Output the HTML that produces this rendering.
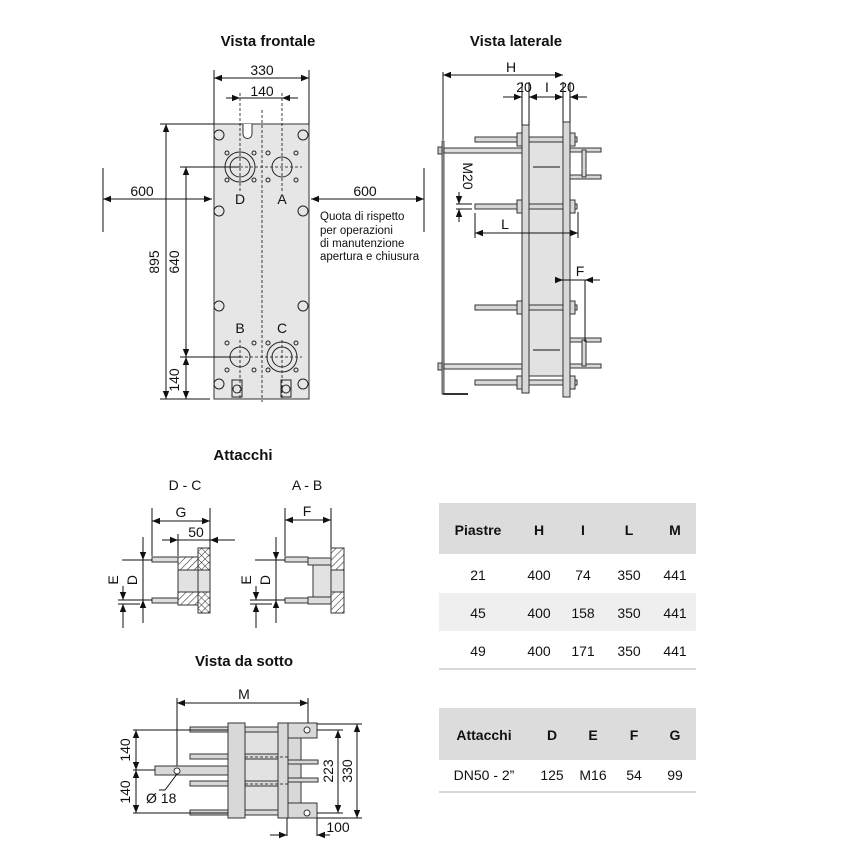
<!DOCTYPE html>
<html><head><meta charset="utf-8"><style>
body{margin:0;background:#fff}
svg{display:block}
text{font-family:"Liberation Sans",Arial,sans-serif;fill:#111}
.t{font-size:15px;font-weight:bold}
.d{font-size:14px}
.l{stroke:#111;stroke-width:1;fill:none}
.g{fill:#e6e6e6;stroke:#333;stroke-width:1}
.dash{stroke:#111;stroke-width:0.8;stroke-dasharray:3,2;fill:none}
</style></head><body>
<svg width="850" height="850" viewBox="0 0 850 850" xmlns="http://www.w3.org/2000/svg">
<defs>
<marker id="a" viewBox="0 0 10 10" refX="10" refY="5" markerWidth="8" markerHeight="8" orient="auto-start-reverse"><path d="M0,1 L10,5 L0,9z" fill="#111"/></marker>
<pattern id="h" width="5" height="5" patternUnits="userSpaceOnUse" patternTransform="rotate(45)"><rect width="5" height="5" fill="#fff"/><line x1="0" y1="0" x2="0" y2="5" stroke="#333" stroke-width="1.2"/></pattern>
<pattern id="x" width="5" height="5" patternUnits="userSpaceOnUse" patternTransform="rotate(45)"><rect width="5" height="5" fill="#fff"/><line x1="0" y1="0" x2="0" y2="5" stroke="#333"/><line x1="0" y1="0" x2="5" y2="0" stroke="#333"/></pattern>
</defs>

<!-- Titles -->
<text class="t" x="268" y="46" text-anchor="middle">Vista frontale</text>
<text class="t" x="516" y="46" text-anchor="middle">Vista laterale</text>
<text class="t" x="243" y="460" text-anchor="middle">Attacchi</text>
<text class="t" x="244" y="666" text-anchor="middle">Vista da sotto</text>

<!-- FRONT VIEW -->
<rect class="g" x="214" y="124" width="95" height="275"/>
<path d="M243,124 v10 a4,4 0 0 0 9,0 v-10" fill="#fff" stroke="#333"/>
<line class="dash" x1="262" y1="110" x2="262" y2="402"/>
<line class="dash" x1="240" y1="93" x2="240" y2="192"/>
<line class="dash" x1="282" y1="93" x2="282" y2="192"/>
<line class="dash" x1="240" y1="340" x2="240" y2="399"/>
<line class="dash" x1="282" y1="340" x2="282" y2="399"/>
<line class="dash" x1="225" y1="167" x2="302" y2="167"/>
<line class="dash" x1="225" y1="357" x2="302" y2="357"/>
<g fill="none" stroke="#222">
<circle cx="240" cy="167" r="15"/><circle cx="240" cy="167" r="10"/>
<circle cx="282" cy="167" r="10"/>
<circle cx="240" cy="357" r="10"/>
<circle cx="282" cy="357" r="15"/><circle cx="282" cy="357" r="10"/>
<circle cx="219" cy="135" r="5"/><circle cx="303" cy="135" r="5"/>
<circle cx="219" cy="211" r="5"/><circle cx="303" cy="211" r="5"/>
<circle cx="219" cy="306" r="5"/><circle cx="303" cy="306" r="5"/>
<circle cx="219" cy="384" r="5"/><circle cx="303" cy="384" r="5"/>
<circle cx="227" cy="153" r="2"/><circle cx="254" cy="153" r="2"/><circle cx="227" cy="180" r="2"/><circle cx="254" cy="180" r="2"/>
<circle cx="268" cy="153" r="2"/><circle cx="296" cy="153" r="2"/><circle cx="268" cy="180" r="2"/><circle cx="296" cy="180" r="2"/>
<circle cx="227" cy="343" r="2"/><circle cx="254" cy="343" r="2"/><circle cx="227" cy="370" r="2"/><circle cx="254" cy="370" r="2"/>
<circle cx="268" cy="343" r="2"/><circle cx="296" cy="343" r="2"/><circle cx="268" cy="370" r="2"/><circle cx="296" cy="370" r="2"/>
<rect x="232" y="380" width="10" height="17"/><circle cx="237" cy="389" r="4"/>
<rect x="281" y="380" width="10" height="17"/><circle cx="286" cy="389" r="4"/>
</g>
<text class="d" x="240" y="204" text-anchor="middle" font-size="15">D</text>
<text class="d" x="282" y="204" text-anchor="middle" font-size="15">A</text>
<text class="d" x="240" y="333" text-anchor="middle" font-size="15">B</text>
<text class="d" x="282" y="333" text-anchor="middle" font-size="15">C</text>
<!-- dims front -->
<line class="l" x1="214" y1="70" x2="214" y2="124"/><line class="l" x1="309" y1="70" x2="309" y2="124"/>
<line class="l" x1="214" y1="78" x2="309" y2="78" marker-start="url(#a)" marker-end="url(#a)"/>
<text class="d" x="262" y="75" text-anchor="middle">330</text>
<line class="l" x1="226" y1="98" x2="240" y2="98" marker-end="url(#a)"/><line class="l" x1="298" y1="98" x2="282" y2="98" marker-end="url(#a)"/>
<line class="l" x1="240" y1="98" x2="282" y2="98"/>
<text class="d" x="262" y="96" text-anchor="middle">140</text>
<line class="l" x1="160" y1="124" x2="214" y2="124"/><line class="l" x1="160" y1="399" x2="210" y2="399"/>
<line class="l" x1="166" y1="124" x2="166" y2="399" marker-start="url(#a)" marker-end="url(#a)"/>
<text class="d" transform="translate(159,262) rotate(-90)" text-anchor="middle">895</text>
<line class="l" x1="180" y1="167" x2="240" y2="167"/><line class="l" x1="180" y1="357" x2="240" y2="357"/>
<line class="l" x1="186" y1="167" x2="186" y2="357" marker-start="url(#a)" marker-end="url(#a)"/>
<text class="d" transform="translate(179,262) rotate(-90)" text-anchor="middle">640</text>
<line class="l" x1="186" y1="357" x2="186" y2="399" marker-start="url(#a)" marker-end="url(#a)"/>
<text class="d" transform="translate(179,380) rotate(-90)" text-anchor="middle">140</text>
<line class="l" x1="103" y1="168" x2="103" y2="232"/>
<line class="l" x1="103" y1="199" x2="212" y2="199" marker-start="url(#a)" marker-end="url(#a)"/>
<text class="d" x="142" y="196" text-anchor="middle">600</text>
<line class="l" x1="424" y1="168" x2="424" y2="232"/>
<line class="l" x1="311" y1="199" x2="424" y2="199" marker-start="url(#a)" marker-end="url(#a)"/>
<text class="d" x="365" y="196" text-anchor="middle">600</text>
<g font-size="11.5"><text x="320" y="220">Quota di rispetto</text><text x="320" y="234">per operazioni</text><text x="320" y="247">di manutenzione</text><text x="320" y="260">apertura e chiusura</text></g>

<!-- SIDE VIEW -->
<line class="l" x1="443" y1="72" x2="443" y2="140"/>
<line class="l" x1="443" y1="75" x2="563" y2="75" marker-start="url(#a)" marker-end="url(#a)"/>
<text class="d" x="511" y="72" text-anchor="middle">H</text>
<rect x="442" y="141" width="2" height="253" fill="#aaa" stroke="#333" stroke-width="0.8"/>
<path d="M443,394 h25" stroke="#333" stroke-width="2"/>
<rect x="438" y="147" width="4" height="7" fill="#ccc" stroke="#333"/>
<rect x="438" y="363" width="4" height="7" fill="#ccc" stroke="#333"/>
<rect x="444" y="148" width="78" height="5" fill="#ddd" stroke="#333"/>
<rect x="444" y="364" width="78" height="5" fill="#ddd" stroke="#333"/>
<rect x="529" y="140" width="34" height="236" fill="#e2e2e2" stroke="#333"/>
<line class="l" x1="533" y1="167" x2="560" y2="167"/><line class="l" x1="533" y1="350" x2="560" y2="350"/>
<g fill="#d8d8d8" stroke="#333">
<rect x="475" y="137" width="102" height="5"/><rect x="475" y="204" width="102" height="5"/>
<rect x="475" y="305" width="102" height="5"/><rect x="475" y="380" width="102" height="5"/>
<rect x="570" y="148" width="31" height="4"/><rect x="570" y="175" width="31" height="4"/><rect x="582" y="150" width="4" height="27"/>
<rect x="570" y="338" width="31" height="4"/><rect x="570" y="364" width="31" height="4"/><rect x="582" y="340" width="4" height="26"/>
<rect x="522" y="125" width="7" height="268"/><rect x="563" y="122" width="7" height="275"/>
<rect x="517" y="133" width="5" height="13"/><rect x="570" y="133" width="5" height="13"/>
<rect x="517" y="200" width="5" height="13"/><rect x="570" y="200" width="5" height="13"/>
<rect x="517" y="301" width="5" height="13"/><rect x="570" y="301" width="5" height="13"/>
<rect x="517" y="376" width="5" height="13"/><rect x="570" y="376" width="5" height="13"/>
</g>
<line class="l" x1="522" y1="82" x2="522" y2="125"/><line class="l" x1="529" y1="82" x2="529" y2="125"/>
<line class="l" x1="563" y1="82" x2="563" y2="122"/><line class="l" x1="570" y1="82" x2="570" y2="122"/>
<line class="l" x1="503" y1="97" x2="522" y2="97" marker-end="url(#a)"/>
<line class="l" x1="529" y1="97" x2="563" y2="97" marker-start="url(#a)" marker-end="url(#a)"/>
<line class="l" x1="587" y1="97" x2="570" y2="97" marker-end="url(#a)"/>
<text class="d" x="524" y="92" text-anchor="middle">20</text>
<text class="d" x="547" y="92" text-anchor="middle">I</text>
<text class="d" x="567" y="92" text-anchor="middle">20</text>
<text class="d" font-size="12" transform="translate(463,176) rotate(90)" text-anchor="middle">M20</text>
<line class="l" x1="456" y1="204" x2="472" y2="204"/><line class="l" x1="456" y1="209" x2="472" y2="209"/>
<line class="l" x1="459" y1="192" x2="459" y2="204" marker-end="url(#a)"/>
<line class="l" x1="459" y1="222" x2="459" y2="209" marker-end="url(#a)"/>
<line class="l" x1="475" y1="213" x2="475" y2="238"/><line class="l" x1="578" y1="212" x2="578" y2="238"/>
<line class="l" x1="475" y1="233" x2="578" y2="233" marker-start="url(#a)" marker-end="url(#a)"/>
<text class="d" x="505" y="229" text-anchor="middle">L</text>
<line class="l" x1="585" y1="280" x2="585" y2="342"/>
<line class="l" x1="556" y1="280" x2="563" y2="280" marker-end="url(#a)"/>
<line class="l" x1="600" y1="280" x2="585" y2="280" marker-end="url(#a)"/>
<line class="l" x1="563" y1="280" x2="585" y2="280"/>
<text class="d" x="580" y="276" text-anchor="middle">F</text>

<!-- ATTACCHI -->
<text class="d" x="185" y="490" text-anchor="middle" font-size="15">D - C</text>
<text class="d" x="307" y="490" text-anchor="middle" font-size="15">A - B</text>
<line class="l" x1="152" y1="508" x2="152" y2="556"/><line class="l" x1="210" y1="508" x2="210" y2="548"/>
<line class="l" x1="152" y1="521" x2="210" y2="521" marker-start="url(#a)" marker-end="url(#a)"/>
<text class="d" x="181" y="517" text-anchor="middle">G</text>
<line class="l" x1="178" y1="534" x2="178" y2="556"/>
<line class="l" x1="162" y1="540" x2="178" y2="540" marker-end="url(#a)"/>
<line class="l" x1="235" y1="540" x2="210" y2="540" marker-end="url(#a)"/>
<line class="l" x1="178" y1="540" x2="210" y2="540"/>
<text class="d" x="196" y="537" text-anchor="middle">50</text>
<rect x="152" y="557" width="26" height="5" fill="#ddd" stroke="#333"/>
<rect x="152" y="598" width="26" height="5" fill="#ddd" stroke="#333"/>
<rect x="178" y="557" width="20" height="13" fill="url(#h)" stroke="#333"/>
<rect x="178" y="592" width="20" height="13" fill="url(#h)" stroke="#333"/>
<rect x="178" y="570" width="20" height="22" fill="#e2e2e2" stroke="#333"/>
<rect x="198" y="548" width="12" height="22" fill="url(#x)" stroke="#333"/>
<rect x="198" y="592" width="12" height="21" fill="url(#x)" stroke="#333"/>
<rect x="198" y="570" width="12" height="22" fill="#e2e2e2" stroke="#333"/>
<line class="l" x1="122" y1="560" x2="152" y2="560"/><line class="l" x1="118" y1="600" x2="152" y2="600"/>
<line class="l" x1="143" y1="537" x2="143" y2="560" marker-end="url(#a)"/>
<line class="l" x1="143" y1="623" x2="143" y2="600" marker-end="url(#a)"/>
<line class="l" x1="143" y1="560" x2="143" y2="600"/>
<text class="d" transform="translate(137,580) rotate(-90)" text-anchor="middle">D</text>
<line class="l" x1="118" y1="604" x2="140" y2="604"/>
<line class="l" x1="123" y1="586" x2="123" y2="600" marker-end="url(#a)"/>
<line class="l" x1="123" y1="628" x2="123" y2="604" marker-end="url(#a)"/>
<text class="d" transform="translate(118,580) rotate(-90)" text-anchor="middle">E</text>

<line class="l" x1="285" y1="508" x2="285" y2="556"/><line class="l" x1="331" y1="508" x2="331" y2="548"/>
<line class="l" x1="285" y1="520" x2="331" y2="520" marker-start="url(#a)" marker-end="url(#a)"/>
<text class="d" x="307" y="516" text-anchor="middle">F</text>
<rect x="285" y="557" width="23" height="5" fill="#ddd" stroke="#333"/>
<rect x="285" y="598" width="23" height="5" fill="#ddd" stroke="#333"/>
<rect x="308" y="558" width="23" height="7" fill="#ddd" stroke="#333"/>
<rect x="308" y="597" width="23" height="7" fill="#ddd" stroke="#333"/>
<rect x="313" y="565" width="18" height="32" fill="#e2e2e2" stroke="#333"/>
<rect x="331" y="548" width="13" height="22" fill="url(#h)" stroke="#333"/>
<rect x="331" y="592" width="13" height="21" fill="url(#h)" stroke="#333"/>
<rect x="331" y="570" width="13" height="22" fill="#e2e2e2" stroke="#333"/>
<line class="l" x1="255" y1="560" x2="285" y2="560"/><line class="l" x1="250" y1="600" x2="285" y2="600"/>
<line class="l" x1="276" y1="537" x2="276" y2="560" marker-end="url(#a)"/>
<line class="l" x1="276" y1="623" x2="276" y2="600" marker-end="url(#a)"/>
<line class="l" x1="276" y1="560" x2="276" y2="600"/>
<text class="d" transform="translate(270,580) rotate(-90)" text-anchor="middle">D</text>
<line class="l" x1="250" y1="604" x2="272" y2="604"/>
<line class="l" x1="256" y1="586" x2="256" y2="600" marker-end="url(#a)"/>
<line class="l" x1="256" y1="628" x2="256" y2="604" marker-end="url(#a)"/>
<text class="d" transform="translate(251,580) rotate(-90)" text-anchor="middle">E</text>

<!-- BOTTOM VIEW -->
<line class="l" x1="177" y1="698" x2="177" y2="768"/><line class="l" x1="308" y1="698" x2="308" y2="730"/>
<line class="l" x1="177" y1="703" x2="308" y2="703" marker-start="url(#a)" marker-end="url(#a)"/>
<text class="d" x="244" y="699" text-anchor="middle">M</text>
<rect x="245" y="730" width="33" height="82" fill="#e2e2e2" stroke="#333"/>
<g fill="#d8d8d8" stroke="#333">
<rect x="190" y="727" width="90" height="5"/><rect x="190" y="754" width="90" height="5"/>
<rect x="190" y="781" width="90" height="5"/><rect x="190" y="810" width="90" height="5"/>
<rect x="155" y="766" width="90" height="9"/>
<rect x="228" y="723" width="17" height="95"/>
<rect x="278" y="723" width="10" height="95"/>
<rect x="288" y="723" width="29" height="15"/><rect x="288" y="803" width="29" height="15"/>
<rect x="288" y="738" width="13" height="65"/>
<rect x="288" y="760" width="30" height="4"/><rect x="288" y="778" width="30" height="4"/>
</g>
<line class="dash" x1="245" y1="757" x2="288" y2="757"/><line class="dash" x1="245" y1="784" x2="288" y2="784"/>
<circle cx="307" cy="730" r="3" fill="#fff" stroke="#333"/><circle cx="307" cy="813" r="3" fill="#fff" stroke="#333"/>
<circle cx="177" cy="771" r="3" fill="#fff" stroke="#333"/>
<line class="l" x1="133" y1="730" x2="228" y2="730"/><line class="l" x1="133" y1="813" x2="228" y2="813"/>
<line class="l" x1="133" y1="770" x2="155" y2="770"/>
<line class="l" x1="136" y1="730" x2="136" y2="770" marker-start="url(#a)" marker-end="url(#a)"/>
<line class="l" x1="136" y1="770" x2="136" y2="813" marker-start="url(#a)" marker-end="url(#a)"/>
<text class="d" transform="translate(130,750) rotate(-90)" text-anchor="middle">140</text>
<text class="d" transform="translate(130,792) rotate(-90)" text-anchor="middle">140</text>
<path d="M177,774 L165,790 h-6" class="l"/>
<text class="d" x="146" y="803">Ø 18</text>
<line class="l" x1="317" y1="730" x2="343" y2="730"/><line class="l" x1="317" y1="813" x2="343" y2="813"/>
<line class="l" x1="317" y1="724" x2="362" y2="724"/><line class="l" x1="317" y1="818" x2="362" y2="818"/>
<line class="l" x1="338" y1="730" x2="338" y2="813" marker-start="url(#a)" marker-end="url(#a)"/>
<line class="l" x1="357" y1="724" x2="357" y2="818" marker-start="url(#a)" marker-end="url(#a)"/>
<text class="d" transform="translate(333,771) rotate(-90)" text-anchor="middle">223</text>
<text class="d" transform="translate(352,771) rotate(-90)" text-anchor="middle">330</text>
<line class="l" x1="287" y1="818" x2="287" y2="836"/><line class="l" x1="317" y1="818" x2="317" y2="836"/>
<line class="l" x1="270" y1="835" x2="287" y2="835" marker-end="url(#a)"/>
<line class="l" x1="330" y1="835" x2="317" y2="835" marker-end="url(#a)"/>
<text class="d" x="338" y="832" text-anchor="middle">100</text>

<!-- TABLES -->
<rect x="439" y="503" width="257" height="51" fill="#dcdcdc"/>
<rect x="439" y="593" width="257" height="38" fill="#efefef"/>
<line x1="439" y1="669" x2="696" y2="669" stroke="#ccc" stroke-width="1.5"/>
<g font-size="14" text-anchor="middle">
<text x="478" y="535" font-weight="bold">Piastre</text><text x="539" y="535" font-weight="bold">H</text><text x="583" y="535" font-weight="bold">I</text><text x="629" y="535" font-weight="bold">L</text><text x="675" y="535" font-weight="bold">M</text>
<text x="478" y="580">21</text><text x="539" y="580">400</text><text x="583" y="580">74</text><text x="629" y="580">350</text><text x="675" y="580">441</text>
<text x="478" y="618">45</text><text x="539" y="618">400</text><text x="583" y="618">158</text><text x="629" y="618">350</text><text x="675" y="618">441</text>
<text x="478" y="656">49</text><text x="539" y="656">400</text><text x="583" y="656">171</text><text x="629" y="656">350</text><text x="675" y="656">441</text>
</g>
<rect x="439" y="708" width="257" height="52" fill="#dcdcdc"/>
<line x1="439" y1="792" x2="696" y2="792" stroke="#ccc" stroke-width="1.5"/>
<g font-size="14" text-anchor="middle">
<text x="484" y="740" font-weight="bold">Attacchi</text><text x="552" y="740" font-weight="bold">D</text><text x="593" y="740" font-weight="bold">E</text><text x="634" y="740" font-weight="bold">F</text><text x="675" y="740" font-weight="bold">G</text>
<text x="484" y="780">DN50 - 2”</text><text x="552" y="780">125</text><text x="593" y="780">M16</text><text x="634" y="780">54</text><text x="675" y="780">99</text>
</g>
</svg>
</body></html>
